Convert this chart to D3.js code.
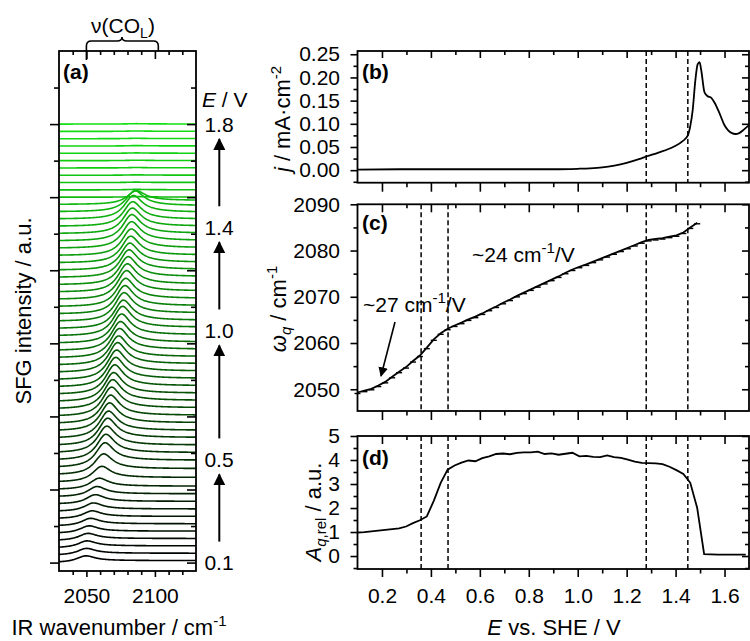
<!DOCTYPE html>
<html>
<head>
<meta charset="utf-8">
<script src="https://cdn.jsdelivr.net/npm/d3@7"></script>
<style>
  body { margin: 0; background: #fff; }
  svg { font-family: "Liberation Sans", Arial, sans-serif; }
</style>
</head>
<body>
<svg id="chart" width="750" height="641"></svg>
<script>
// ---- data ----
// 61 SFG spectra recorded between 0.1 and 1.8 V vs. SHE
const spectrumCount = 61
const potentials = d3.range(spectrumCount).map(i => 0.1 + i * 1.7 / (spectrumCount - 1))

// fitted CO_L peak position omega_q (cm-1) for every spectrum with a band (panel c)
const peakPos = [2049.3, 2049.7, 2050.1, 2050.8, 2051.6, 2052.7, 2053.8, 2054.8, 2056.1, 2057.3,
  2059.0, 2060.8, 2062.1, 2063.1, 2063.8, 2064.4, 2065.1, 2065.7, 2066.4, 2067.2,
  2067.9, 2068.7, 2069.4, 2070.2, 2070.9, 2071.6, 2072.3, 2073.0, 2073.7, 2074.4,
  2075.2, 2075.9, 2076.5, 2077.0, 2077.6, 2078.2, 2078.8, 2079.4, 2080.0, 2080.6,
  2081.2, 2081.8, 2082.3, 2082.5, 2082.7, 2083.0, 2083.3, 2083.9, 2085.0, 2086.0]

// relative amplitude A_q,rel (panel d)
const ampRel = [0.98, 1.00, 1.03, 1.06, 1.09, 1.12, 1.15, 1.23, 1.37, 1.49,
  1.65, 2.30, 3.05, 3.60, 3.77, 3.89, 3.98, 3.95, 4.08, 4.15,
  4.25, 4.27, 4.24, 4.30, 4.32, 4.32, 4.35, 4.25, 4.28, 4.22,
  4.26, 4.30, 4.15, 4.17, 4.13, 4.12, 4.19, 4.12, 4.09, 4.02,
  3.93, 3.88, 3.87, 3.86, 3.83, 3.72, 3.58, 3.42, 3.05, 2.00,
  0.08, 0.07, 0.06, 0.06, 0.06, 0.06, 0.06, 0.06, 0.06, 0.06, 0.06]

// cyclic voltammogram (panel b)
const cvPotential = [0.1, 0.3, 0.5, 0.7, 0.9, 1.0, 1.05, 1.1, 1.15, 1.2, 1.25, 1.283, 1.33, 1.39, 1.43, 1.45,
  1.46, 1.47, 1.48, 1.49, 1.498, 1.505, 1.518, 1.53, 1.546, 1.56, 1.58, 1.6, 1.613, 1.63, 1.645, 1.66, 1.68, 1.7]
const cvCurrent = [0.001, 0.002, 0.002, 0.002, 0.002, 0.003, 0.004, 0.006, 0.010, 0.016, 0.024, 0.030, 0.038, 0.050, 0.063, 0.075,
  0.095, 0.13, 0.19, 0.228, 0.233, 0.215, 0.168, 0.160, 0.156, 0.145, 0.122, 0.097, 0.087, 0.080, 0.078, 0.080, 0.088, 0.097]

const dashedB = [1.28, 1.45]
const dashedCD = [0.36, 0.47, 1.28, 1.45]
const potentialLabels = [0.1, 0.5, 1.0, 1.4, 1.8]

// ---- layout ----
const svg = d3.select('#chart')
const fontSize = 21,
      titleSize = 22,
      traceOffset = 0.2,     // vertical shift between spectra (a.u.)
      heightPerAmp = 0.16,   // peak height per unit of A_q,rel
      hwhm = 8,              // band half width, cm-1
      stepFrac = 0.35        // raised background on the high-wavenumber side

const xA = d3.scaleLinear().domain([2030, 2130]).range([59, 196])
const yA = d3.scaleLinear().domain([-0.23, 14]).range([571, 51])
const xE = d3.scaleLinear().domain([0.1, 1.7]).range([357.5, 749])
const yB = d3.scaleLinear().domain([-0.027, 0.257]).range([182.7, 51])
const yC = d3.scaleLinear().domain([2045.3, 2090]).range([411, 204.3])
const yD = d3.scaleLinear().domain([-0.54, 5]).range([569, 436])

const noLabel = () => ''

function drawAxes(x, y, o) {
  const [x0, x1] = x.range(), [y0, y1] = y.range()
  const g = svg.append('g')
  const add = (gen, tr) => g.append('g').attr('transform', tr).call(gen)
    .call(a => a.select('.domain').remove())

  add(d3.axisBottom(x).tickValues(o.xMajor).tickSize(o.xTick[0]).tickPadding(o.xPad || 0)
    .tickFormat(o.xFmt || noLabel), `translate(0,${y0})`)
  add(d3.axisBottom(x).tickValues(o.xMinor).tickSize(o.xTick[1]).tickFormat(noLabel), `translate(0,${y0})`)
  add(d3.axisTop(x).tickValues(o.xMajor).tickSize(-o.xTop[0]).tickFormat(noLabel), `translate(0,${y1})`)
  add(d3.axisTop(x).tickValues(o.xMinor).tickSize(-o.xTop[1]).tickFormat(noLabel), `translate(0,${y1})`)

  add(d3.axisLeft(y).tickValues(o.yMajor).tickSize(o.yTick[0]).tickPadding(o.yPad || 0)
    .tickFormat(o.yFmt || noLabel), `translate(${x0},0)`)
  add(d3.axisLeft(y).tickValues(o.yMinor).tickSize(o.yTick[1]).tickFormat(noLabel), `translate(${x0},0)`)
  add(d3.axisRight(y).tickValues(o.yMajor).tickSize(-o.yTick[0]).tickFormat(noLabel), `translate(${x1},0)`)
  add(d3.axisRight(y).tickValues(o.yMinor).tickSize(-o.yTick[1]).tickFormat(noLabel), `translate(${x1},0)`)

  g.selectAll('line').attr('stroke', '#000').attr('stroke-width', 1.6)
  g.selectAll('text').attr('font-size', fontSize).attr('fill', '#000')
    .attr('font-family', '"Liberation Sans", Arial, sans-serif')
  g.append('rect')
    .attr('x', x0).attr('y', y1)
    .attr('width', x1 - x0).attr('height', y0 - y1)
    .attr('fill', 'none').attr('stroke', '#000').attr('stroke-width', 1.8)
}

function dashed(values, y) {
  svg.append('g').selectAll('line')
    .data(values)
    .enter()
    .append('line')
      .attr('x1', d => xE(d)).attr('x2', d => xE(d))
      .attr('y1', y.range()[1]).attr('y2', y.range()[0])
      .attr('stroke', '#000')
      .attr('stroke-width', 1.5)
      .attr('stroke-dasharray', '5,3')
}

function label(x, y, t) {
  svg.append('text').attr('x', x).attr('y', y)
    .attr('font-size', fontSize).attr('font-weight', 'bold').text(t)
}

// ---- panel (a): stacked spectra ----
const wavenumbers = d3.range(2030, 2130.01, 0.5)
const traceColor = d3.interpolateRgb('#000000', '#12e012')

const spectra = potentials.map((E, i) => {
  const c = peakPos[Math.min(i, peakPos.length - 1)]
  const h = ampRel[i] * heightPerAmp
  return wavenumbers.map(w => {
    const lor = hwhm * hwhm / ((w - c) * (w - c) + hwhm * hwhm)
    const step = 1 / (1 + Math.exp(-(w - c) / 5))
    return [w, i * traceOffset + h * (lor + stepFrac * step)]
  })
})

const specLine = d3.line().x(d => xA(d[0])).y(d => yA(d[1]))
svg.append('g').selectAll('path')
  .data(spectra)
  .enter()
  .append('path')
    .attr('d', specLine)
    .attr('fill', 'none')
    .attr('stroke', (d, i) => traceColor(i / (spectrumCount - 1)))
    .attr('stroke-width', 1.6)

drawAxes(xA, yA, {
  xMajor: [2050, 2100], xMinor: [2040, 2060, 2070, 2080, 2090, 2110, 2120],
  xTick: [6, 4], xTop: [8, 4], xPad: 11, xFmt: d3.format('d'),
  yMajor: d3.range(0, 13, 2), yMinor: d3.range(1, 14, 2),
  yTick: [9, 5]
})
label(63, 79, '(a)')

// bracket over the CO_L band
svg.append('path')
  .attr('d', `M${xA(2050)},60 V46 Q${xA(2050)},41 ${xA(2050) + 5},41 H117 Q122,41 122,37 Q122,41 127,41 H${xA(2102.5) - 5} Q${xA(2102.5)},41 ${xA(2102.5)},46 V51`)
  .attr('fill', 'none').attr('stroke', '#000').attr('stroke-width', 1.6)
const nu = svg.append('text').attr('x', 123).attr('y', 33).attr('text-anchor', 'middle').attr('font-size', fontSize)
nu.append('tspan').text('ν(CO')
nu.append('tspan').attr('dy', 5).attr('font-size', 14).text('L')
nu.append('tspan').attr('dy', -5).text(')')

// potential labels and arrows
const offsetOf = E => (E - 0.1) / (1.7 / (spectrumCount - 1)) * traceOffset
const ev = svg.append('text').attr('x', 202).attr('y', 107).attr('font-size', fontSize)
ev.append('tspan').attr('font-style', 'italic').text('E')
ev.append('tspan').text(' / V')
svg.append('g').selectAll('text')
  .data(potentialLabels)
  .enter()
  .append('text')
    .attr('x', 219).attr('y', d => yA(offsetOf(d)) + 7.5)
    .attr('text-anchor', 'middle')
    .attr('font-size', fontSize)
    .text(d => d3.format('.1f')(d))

svg.append('defs').append('marker')
  .attr('id', 'head').attr('viewBox', '0 0 10 10')
  .attr('refX', 9).attr('refY', 5)
  .attr('markerWidth', 6).attr('markerHeight', 6)
  .attr('markerUnits', 'strokeWidth')
  .attr('orient', 'auto')
  .append('path').attr('d', 'M0,0 L10,5 L0,10 z').attr('fill', '#000')

const arrowPairs = d3.pairs(potentialLabels)
svg.append('g').selectAll('line')
  .data(arrowPairs)
  .enter()
  .append('line')
    .attr('x1', 219.3).attr('x2', 219.3)
    .attr('y1', d => yA(offsetOf(d[0])) - 21)
    .attr('y2', d => yA(offsetOf(d[1])) + 15)
    .attr('stroke', '#000').attr('stroke-width', 2)
    .attr('marker-end', 'url(#head)')

svg.append('text')
  .attr('transform', 'translate(31,311) rotate(-90)')
  .attr('text-anchor', 'middle').attr('font-size', titleSize)
  .text('SFG intensity / a.u.')
const xtA = svg.append('text').attr('x', 119).attr('y', 635).attr('text-anchor', 'middle').attr('font-size', titleSize)
xtA.append('tspan').text('IR wavenumber / cm')
xtA.append('tspan').attr('dy', -9).attr('font-size', 15).text('-1')

// ---- panel (b): current density ----
dashed(dashedB, yB)
svg.append('path')
  .datum(d3.zip(cvPotential, cvCurrent))
  .attr('d', d3.line().curve(d3.curveMonotoneX).x(d => xE(d[0])).y(d => yB(d[1])))
  .attr('fill', 'none').attr('stroke', '#000').attr('stroke-width', 1.8)
drawAxes(xE, yB, {
  xMajor: d3.range(0.2, 1.61, 0.2), xMinor: d3.range(0.3, 1.51, 0.2),
  xTick: [9, 4.5], xTop: [7, 4],
  yMajor: d3.range(0, 0.251, 0.05), yMinor: d3.range(-0.025, 0.24, 0.05),
  yTick: [7, 4], yPad: 10.5, yFmt: d3.format('.2f')
})
label(362, 79, '(b)')
const tb = svg.append('text').attr('transform', 'translate(290,119) rotate(-90)')
  .attr('text-anchor', 'middle').attr('font-size', titleSize)
tb.append('tspan').attr('font-style', 'italic').text('j')
tb.append('tspan').text(' / mA·cm')
tb.append('tspan').attr('dy', -9).attr('font-size', 15).text('-2')

// ---- panel (c): peak position ----
dashed(dashedCD, yC)
const posData = peakPos.map((w, i) => [potentials[i], w])
svg.append('path')
  .datum(posData)
  .attr('d', d3.line().x(d => xE(d[0])).y(d => yC(d[1])))
  .attr('fill', 'none').attr('stroke', '#000').attr('stroke-width', 1.8)
svg.append('g').selectAll('line')
  .data(posData)
  .enter()
  .append('line')
    .attr('x1', d => xE(d[0]) - 3).attr('x2', d => xE(d[0]) + 3)
    .attr('y1', d => yC(d[1]) + 1).attr('y2', d => yC(d[1]) + 1)
    .attr('stroke', '#000').attr('stroke-width', 1.4)
drawAxes(xE, yC, {
  xMajor: d3.range(0.2, 1.61, 0.2), xMinor: d3.range(0.3, 1.51, 0.2),
  xTick: [9, 4.5], xTop: [8, 4],
  yMajor: d3.range(2050, 2090.1, 10), yMinor: d3.range(2055, 2086, 10),
  yTick: [7, 4], yPad: 10.5, yFmt: d3.format('d')
})
label(362, 230, '(c)')
const tc = svg.append('text').attr('transform', 'translate(286,309) rotate(-90)')
  .attr('text-anchor', 'middle').attr('font-size', titleSize)
tc.append('tspan').attr('font-style', 'italic').text('ω')
tc.append('tspan').attr('dy', 5).attr('font-size', 15).attr('font-style', 'italic').text('q')
tc.append('tspan').attr('dy', -5).text(' / cm')
tc.append('tspan').attr('dy', -9).attr('font-size', 15).text('-1')

function slope(x, y, t) {
  const s = svg.append('text').attr('x', x).attr('y', y).attr('font-size', fontSize)
  s.append('tspan').text(t)
  s.append('tspan').attr('dy', -9).attr('font-size', 15).text('-1')
  s.append('tspan').attr('dy', 9).text('/V')
}
slope(472, 262, '~24 cm')
slope(363, 312, '~27 cm')
svg.append('line')
  .attr('x1', 395).attr('y1', 322).attr('x2', 381).attr('y2', 376)
  .attr('stroke', '#000').attr('stroke-width', 1.6)
  .attr('marker-end', 'url(#head)')

// ---- panel (d): amplitude ----
dashed(dashedCD, yD)
svg.append('path')
  .datum(ampRel.map((a, i) => [potentials[i], a]).filter(d => d[0] <= 1.7001))
  .attr('d', d3.line().x(d => xE(d[0])).y(d => yD(d[1])))
  .attr('fill', 'none').attr('stroke', '#000').attr('stroke-width', 1.8)
drawAxes(xE, yD, {
  xMajor: d3.range(0.2, 1.61, 0.2), xMinor: d3.range(0.3, 1.51, 0.2),
  xTick: [8, 4.5], xTop: [8, 4], xPad: 11, xFmt: d3.format('.1f'),
  yMajor: d3.range(0, 5.1, 1), yMinor: d3.range(-0.5, 4.6, 1),
  yTick: [7, 4], yPad: 10.5, yFmt: d3.format('d')
})
label(362, 465, '(d)')
const td = svg.append('text').attr('transform', 'translate(321,512) rotate(-90)')
  .attr('text-anchor', 'middle').attr('font-size', titleSize)
td.append('tspan').attr('font-style', 'italic').text('A')
td.append('tspan').attr('dy', 5).attr('font-size', 15).attr('font-style', 'italic').text('q')
td.append('tspan').attr('font-size', 15).text(',rel')
td.append('tspan').attr('dy', -5).text(' / a.u.')

const xt = svg.append('text').attr('x', 554).attr('y', 635).attr('text-anchor', 'middle').attr('font-size', titleSize)
xt.append('tspan').attr('font-style', 'italic').text('E')
xt.append('tspan').text(' vs. SHE / V')
</script>
</body>
</html>
